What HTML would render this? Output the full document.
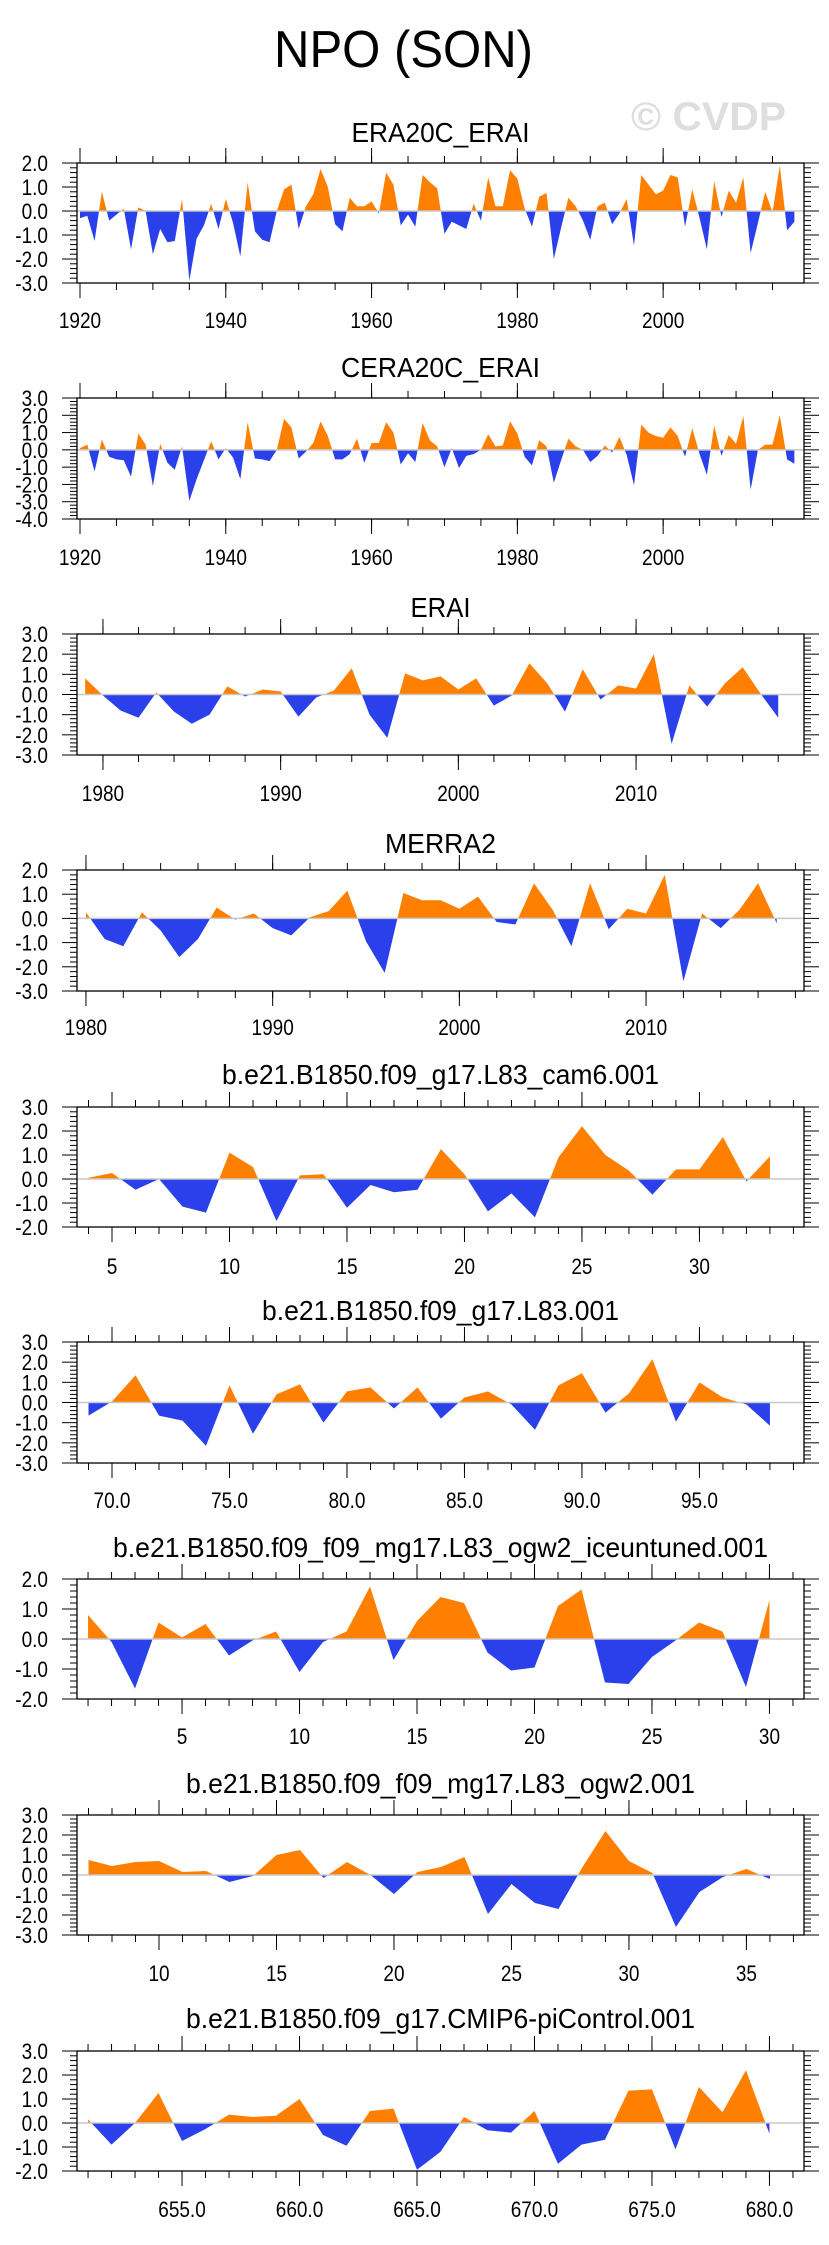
<!DOCTYPE html>
<html><head><meta charset="utf-8"><title>NPO (SON)</title>
<style>
html,body{margin:0;padding:0;background:#fff;}
svg{display:block;}
text{font-family:"Liberation Sans",Arial,sans-serif;fill:#000;}
</style></head>
<body>
<svg id="fig" xmlns="http://www.w3.org/2000/svg" width="829" height="2245" viewBox="0 0 829 2245">
<rect x="0" y="0" width="829" height="2245" fill="#fff"/>
<text x="274" y="67" font-size="52" textLength="259" lengthAdjust="spacingAndGlyphs">NPO (SON)</text>
<text x="631" y="130" font-size="40" font-weight="bold" style="fill:#dedede" textLength="155" lengthAdjust="spacingAndGlyphs">© CVDP</text>
</svg>
<script>
// ---- data ----
const era20cStart = 1920;
const era20cVals = [-0.3,-0.2,-1.25,0.8,-0.4,-0.15,0.1,-1.6,0.15,0.0,-1.8,-0.75,-1.3,-1.25,0.5,-2.9,-1.15,-0.6,0.3,-0.75,0.5,-0.5,-1.9,1.2,-0.85,-1.2,-1.3,0.0,0.9,1.1,-0.75,0.2,0.7,1.75,1.0,-0.55,-0.85,0.55,0.2,0.2,0.4,-0.1,1.6,1.1,-0.6,-0.15,-0.65,1.5,1.2,0.95,-0.95,-0.45,-0.6,-0.75,0.3,-0.4,1.4,0.2,0.2,1.7,1.35,0.1,-0.65,0.6,0.75,-2.0,-0.7,0.55,0.2,-0.4,-1.2,0.2,0.35,-0.55,-0.1,0.5,-1.45,1.5,1.1,0.7,0.85,1.5,1.4,-0.65,0.9,-0.3,-1.6,1.25,-0.25,0.85,0.35,1.4,-1.75,-0.5,0.8,-0.05,1.9,-0.8,-0.45];
const cera20cStart = 1920;
const cera20cVals = [0.1,0.3,-1.25,0.6,-0.4,-0.55,-0.6,-1.55,0.95,0.3,-2.1,0.35,-0.75,-1.15,0.2,-2.95,-1.7,-0.6,0.5,-0.55,0.1,-0.45,-1.7,1.6,-0.5,-0.55,-0.65,0.0,1.8,1.3,-0.5,-0.1,0.4,1.65,0.8,-0.55,-0.55,-0.25,0.65,-0.75,0.4,0.4,1.6,1.0,-0.85,-0.2,-0.7,1.55,0.55,0.2,-1.0,0.1,-1.05,-0.35,-0.25,0.0,0.9,0.2,0.25,1.65,0.95,-0.4,-0.9,0.55,0.2,-1.9,-0.6,0.65,0.2,0.0,-0.7,-0.35,0.25,-0.15,0.75,-0.3,-2.05,1.45,1.0,0.8,0.7,1.3,0.8,-0.4,1.25,-0.25,-1.45,1.4,-0.35,0.85,0.35,1.95,-2.3,0.0,0.3,0.3,2.0,-0.55,-0.8];
const eraiStart = 1979;
const eraiVals = [0.8,-0.05,-0.8,-1.15,0.1,-0.85,-1.45,-1.0,0.4,-0.1,0.25,0.15,-1.1,-0.15,0.2,1.3,-1.0,-2.15,1.05,0.7,0.9,0.25,0.8,-0.55,-0.05,1.55,0.55,-0.85,1.25,-0.25,0.45,0.3,2.0,-2.45,0.45,-0.6,0.55,1.35,0.05,-1.15];
const merra2Start = 1980;
const merra2Vals = [0.25,-0.85,-1.15,0.25,-0.5,-1.6,-0.85,0.45,-0.05,0.2,-0.4,-0.7,0.05,0.3,1.15,-0.95,-2.25,1.05,0.75,0.75,0.4,0.9,-0.15,-0.25,1.45,0.35,-1.15,1.45,-0.45,0.4,0.2,1.8,-2.6,0.2,-0.4,0.35,1.45,-0.2];
const cam6Start = 4;
const cam6Vals = [0.05,0.25,-0.45,0.0,-1.15,-1.4,1.1,0.5,-1.75,0.15,0.2,-1.2,-0.25,-0.55,-0.45,1.25,0.2,-1.35,-0.6,-1.6,0.9,2.2,1.0,0.35,-0.65,0.4,0.4,1.75,-0.1,0.95];
const l83Start = 69;
const l83Vals = [-0.65,0.05,1.35,-0.65,-0.9,-2.15,0.85,-1.55,0.4,0.9,-1.0,0.55,0.75,-0.3,0.75,-0.8,0.25,0.55,-0.1,-1.35,0.85,1.45,-0.5,0.45,2.15,-0.95,1.0,0.25,-0.1,-1.15];
const iceStart = 1;
const iceVals = [0.8,-0.1,-1.65,0.55,0.05,0.5,-0.55,-0.05,0.25,-1.1,-0.1,0.25,1.75,-0.7,0.6,1.4,1.2,-0.45,-1.05,-0.95,1.1,1.65,-1.45,-1.5,-0.6,-0.05,0.55,0.25,-1.6,1.3];
const ogw2Start = 7;
const ogw2Vals = [0.75,0.45,0.65,0.7,0.15,0.2,-0.35,-0.05,1.0,1.25,-0.15,0.65,0.0,-0.95,0.15,0.4,0.9,-1.95,-0.45,-1.4,-1.7,0.35,2.2,0.7,0.1,-2.6,-0.85,-0.1,0.3,-0.2];
const piStart = 651;
const piVals = [0.15,-0.9,0.0,1.25,-0.75,-0.25,0.35,0.25,0.3,1.0,-0.5,-0.95,0.5,0.6,-1.95,-1.2,0.25,-0.3,-0.4,0.5,-1.7,-0.9,-0.7,1.35,1.4,-1.1,1.5,0.45,2.2,-0.45];

const yearTicks20 = ["1920","1940","1960","1980","2000"];
const yearTicks10a = ["1980","1990","2000","2010"];
const tick5 = ["5","10","15","20","25","30"];
const tick70 = ["70.0","75.0","80.0","85.0","90.0","95.0"];
const tick10 = ["10","15","20","25","30","35"];
const tick655 = ["655.0","660.0","665.0","670.0","675.0","680.0"];

const titles = ["ERA20C_ERAI","CERA20C_ERAI","ERAI","MERRA2","b.e21.B1850.f09_g17.L83_cam6.001","b.e21.B1850.f09_g17.L83.001","b.e21.B1850.f09_f09_mg17.L83_ogw2_iceuntuned.001","b.e21.B1850.f09_f09_mg17.L83_ogw2.001","b.e21.B1850.f09_g17.CMIP6-piControl.001"];

// ---- layout (not data) ----
const BOXL = 77, BOXW = 727;
const layout = [
 {top:163,h:120,xmin:1919.59,xmax:2019.32,ymin:-3,ymax:2,minor:5,tw:178,ty:142,ly:328},
 {top:398,h:121,xmin:1919.59,xmax:2019.32,ymin:-4,ymax:3,minor:5,tw:199,ty:377,ly:565},
 {top:634,h:121,xmin:1978.54,xmax:2019.45,ymin:-3,ymax:3,minor:2,tw:60,ty:617,ly:801},
 {top:870,h:121,xmin:1979.52,xmax:2018.46,ymin:-3,ymax:2,minor:2,tw:111,ty:853,ly:1035},
 {top:1107,h:120,xmin:3.51,xmax:34.45,ymin:-2,ymax:3,minor:1,tw:437,ty:1084,ly:1274},
 {top:1342,h:121,xmin:68.51,xmax:99.45,ymin:-3,ymax:3,minor:1,tw:357,ty:1320,ly:1508},
 {top:1579,h:120,xmin:0.53,xmax:31.47,ymin:-2,ymax:2,minor:1,tw:655,ty:1557,ly:1744},
 {top:1815,h:120,xmin:6.51,xmax:37.45,ymin:-3,ymax:3,minor:1,tw:509,ty:1793,ly:1981},
 {top:2051,h:120,xmin:650.53,xmax:681.47,ymin:-2,ymax:3,minor:1,tw:509,ty:2028,ly:2217}
];
const series = [
 [era20cStart, era20cVals, yearTicks20],
 [cera20cStart, cera20cVals, yearTicks20],
 [eraiStart, eraiVals, yearTicks10a],
 [merra2Start, merra2Vals, yearTicks10a],
 [cam6Start, cam6Vals, tick5],
 [l83Start, l83Vals, tick70],
 [iceStart, iceVals, tick5],
 [ogw2Start, ogw2Vals, tick10],
 [piStart, piVals, tick655]
];

const NS = "http://www.w3.org/2000/svg";
const svg = document.getElementById("fig");
const defs = document.createElementNS(NS,"defs");
svg.appendChild(defs);
function mk(tag, attrs, parent){
  const e = document.createElementNS(NS, tag);
  for (const k in attrs) e.setAttribute(k, attrs[k]);
  (parent||svg).appendChild(e);
  return e;
}
function slug(s){return s.toLowerCase().replace(/[^a-z0-9]+/g,'-').replace(/^-|-$/g,'');}
function labelWidth(s){
  let w = 0;
  for (const c of s) w += (c === '.') ? 0.278 : (c === '-') ? 0.333 : 0.556;
  return (w * 19).toFixed(1);
}

layout.forEach((L, p) => {
  const [start, vals, xticks] = series[p];
  const sx = v => BOXL + (v - L.xmin) / (L.xmax - L.xmin) * BOXW;
  const sy = v => L.top + (L.ymax - v) / (L.ymax - L.ymin) * L.h;
  const bottom = L.top + L.h;
  const g = mk("g", {});
  
  

  const t = mk("text", {x: 440.5, y: L.ty, "font-size": 28, "text-anchor": "middle", textLength: L.tw, lengthAdjust: "spacingAndGlyphs"}, g);
  t.textContent = titles[p];
  
  

  const y0 = sy(0);
  let d = "M" + sx(start).toFixed(2) + "," + y0.toFixed(2);
  vals.forEach((v, i) => { d += " L" + sx(start + i).toFixed(2) + "," + sy(v).toFixed(2); });
  d += " L" + sx(start + vals.length - 1).toFixed(2) + "," + y0.toFixed(2) + " Z";
  const cpA = mk("clipPath", {id: "ca" + p}, defs);
  mk("rect", {x: BOXL, y: L.top, width: BOXW, height: y0 - L.top}, cpA);
  const cpB = mk("clipPath", {id: "cb" + p}, defs);
  mk("rect", {x: BOXL, y: y0, width: BOXW, height: bottom - y0}, cpB);
  const pos = mk("path", {d: d, fill: "#ff8000", "clip-path": "url(#ca" + p + ")"}, g);
  
  
  const neg = mk("path", {d: d, fill: "#2a40eb", "clip-path": "url(#cb" + p + ")"}, g);
  
  
  const zl = mk("line", {x1: BOXL, x2: BOXL + BOXW, y1: y0, y2: y0, stroke: "#c8c8c8", "stroke-width": 1.5}, g);
  
  

  const box = mk("rect", {x: BOXL, y: L.top, width: BOXW, height: L.h, fill: "none", stroke: "#000", "stroke-width": 1.3}, g);
  
  

  const tk = mk("g", {stroke: "#000", "stroke-width": 1}, g);
  
  
  const m0 = Math.ceil(L.xmin / L.minor) * L.minor;
  for (let v = m0; v <= L.xmax + 1e-9; v += L.minor) {
    const x = sx(v).toFixed(2);
    mk("line", {x1: x, x2: x, y1: bottom, y2: bottom + 7}, tk);
    mk("line", {x1: x, x2: x, y1: L.top, y2: L.top - 7}, tk);
  }
  xticks.forEach(lbl => {
    const v = parseFloat(lbl);
    const x = sx(v).toFixed(2);
    mk("line", {x1: x, x2: x, y1: bottom, y2: bottom + 15}, tk);
    mk("line", {x1: x, x2: x, y1: L.top, y2: L.top - 15}, tk);
    const tx = mk("text", {x: x, y: L.ly, "font-size": 22, "text-anchor": "middle", textLength: labelWidth(lbl), lengthAdjust: "spacingAndGlyphs"}, g);
    tx.textContent = lbl;
    
    
  });

  const yk = mk("g", {stroke: "#000", "stroke-width": 1}, g);
  
  
  for (let k = Math.round(L.ymin * 5); k <= Math.round(L.ymax * 5); k++) {
    const y = sy(k / 5).toFixed(2);
    const major = (k % 5 === 0);
    const len = major ? 15 : 7;
    mk("line", {x1: BOXL, x2: BOXL - len, y1: y, y2: y}, yk);
    mk("line", {x1: BOXL + BOXW, x2: BOXL + BOXW + len, y1: y, y2: y}, yk);
    if (major) {
      const lab = (k / 5).toFixed(1);
      const ty = mk("text", {x: 48, y: (+y + 8).toFixed(2), "font-size": 22, "text-anchor": "end", textLength: labelWidth(lab), lengthAdjust: "spacingAndGlyphs"}, g);
      ty.textContent = lab;
      
      
    }
  }
});
</script>
</body></html>
